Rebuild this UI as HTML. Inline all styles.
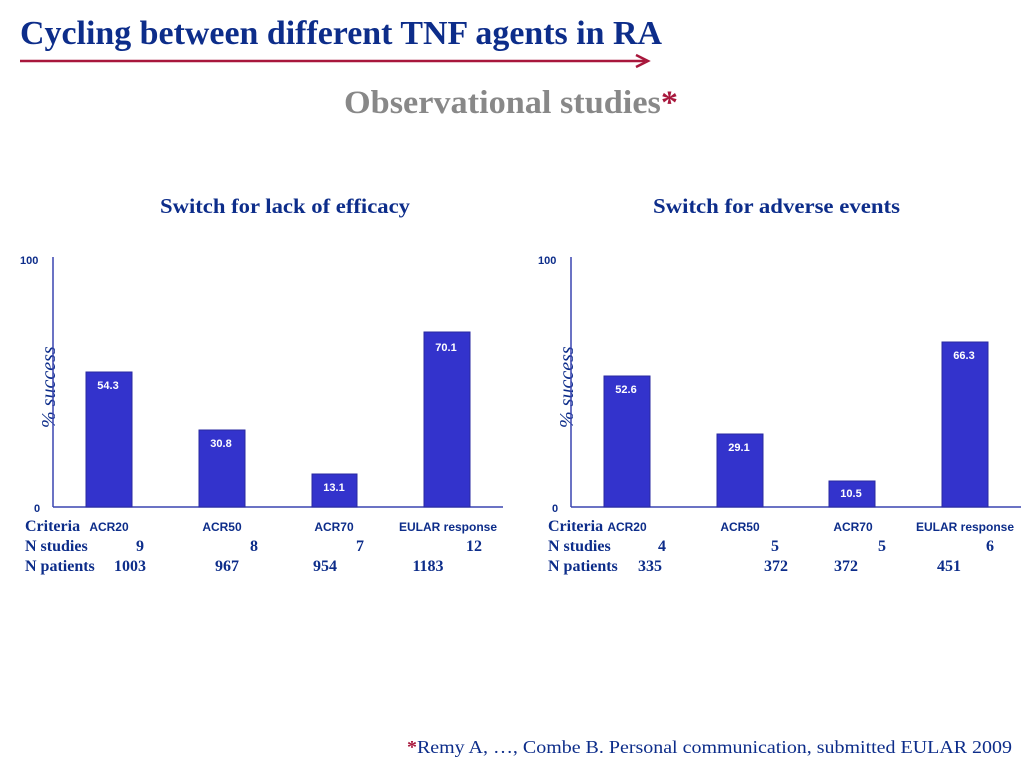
<!DOCTYPE html><html><head><style>body{margin:0;background:#fff}svg{display:block}</style></head><body>
<svg width="1024" height="768" xmlns="http://www.w3.org/2000/svg">
<text x="20" y="44" font-family="Liberation Serif" font-weight="bold" font-size="34" fill="#0d2d8a" textLength="642" lengthAdjust="spacingAndGlyphs">Cycling between different TNF agents in RA</text>
<line x1="20" y1="61" x2="645" y2="61" stroke="#a8173c" stroke-width="2.5"/>
<path d="M636 55 L648 61 L636 67" fill="none" stroke="#a8173c" stroke-width="2.5"/>
<text x="344" y="113" font-family="Liberation Serif" font-weight="bold" font-size="33" fill="#888" textLength="334" lengthAdjust="spacingAndGlyphs">Observational studies<tspan fill="#a8173c">*</tspan></text>
<g font-family="Liberation Serif" font-weight="bold" font-size="21" fill="#0d2d8a">
<text x="160" y="213" textLength="250" lengthAdjust="spacingAndGlyphs">Switch for lack of efficacy</text><text x="653" y="213" textLength="247" lengthAdjust="spacingAndGlyphs">Switch for adverse events</text></g>
<g font-family="Liberation Sans" font-weight="bold" font-size="11" fill="#0d2d8a">
<text x="20" y="264">100</text><text x="34" y="512">0</text><text x="538" y="264">100</text><text x="552" y="512">0</text></g>
<g font-family="Liberation Serif" font-style="italic" font-size="20" fill="#0d2d8a">
<text transform="translate(55,428) rotate(-90)">% success</text><text transform="translate(573,428) rotate(-90)">% success</text></g>
<g stroke="#3a45b0" stroke-width="1.5"><line x1="53" y1="257" x2="53" y2="507"/><line x1="53" y1="507" x2="503" y2="507"/><line x1="571" y1="257" x2="571" y2="507"/><line x1="571" y1="507" x2="1021" y2="507"/></g>
<g fill="#3333cc" stroke="#2a2aa0" stroke-width="1">
<rect x="86" y="372" width="46" height="135"/><rect x="199" y="430" width="46" height="77"/><rect x="312" y="474" width="45" height="33"/><rect x="424" y="332" width="46" height="175"/>
<rect x="604" y="376" width="46" height="131"/><rect x="717" y="434" width="46" height="73"/><rect x="829" y="481" width="46" height="26"/><rect x="942" y="342" width="46" height="165"/></g>
<g font-family="Liberation Sans" font-weight="bold" font-size="11" fill="#fff" text-anchor="middle">
<text x="108" y="389">54.3</text><text x="221" y="447">30.8</text><text x="334" y="491">13.1</text><text x="446" y="351">70.1</text>
<text x="626" y="393">52.6</text><text x="739" y="451">29.1</text><text x="851" y="497">10.5</text><text x="964" y="359">66.3</text></g>
<g font-family="Liberation Sans" font-weight="bold" font-size="12" fill="#0d2d8a" text-anchor="middle">
<text x="109" y="531">ACR20</text><text x="222" y="531">ACR50</text><text x="334" y="531">ACR70</text><text x="448" y="531">EULAR response</text>
<text x="627" y="531">ACR20</text><text x="740" y="531">ACR50</text><text x="853" y="531">ACR70</text><text x="965" y="531">EULAR response</text></g>
<g font-family="Liberation Serif" font-weight="bold" font-size="16" fill="#0d2d8a">
<text x="25" y="531">Criteria</text><text x="25" y="551">N studies</text><text x="25" y="571">N patients</text>
<text x="548" y="531">Criteria</text><text x="548" y="551">N studies</text><text x="548" y="571">N patients</text>
<g text-anchor="middle"><text x="140" y="551">9</text><text x="254" y="551">8</text><text x="360" y="551">7</text><text x="474" y="551">12</text>
<text x="130" y="571">1003</text><text x="227" y="571">967</text><text x="325" y="571">954</text><text x="428" y="571">1183</text>
<text x="662" y="551">4</text><text x="775" y="551">5</text><text x="882" y="551">5</text><text x="990" y="551">6</text>
<text x="650" y="571">335</text><text x="776" y="571">372</text><text x="846" y="571">372</text><text x="949" y="571">451</text></g></g>
<text x="407" y="753" font-family="Liberation Serif" font-size="18" fill="#0d2d8a" textLength="605" lengthAdjust="spacingAndGlyphs"><tspan fill="#a8173c" font-weight="bold">*</tspan>Remy A, …, Combe B. Personal communication, submitted EULAR 2009</text>
</svg></body></html>
